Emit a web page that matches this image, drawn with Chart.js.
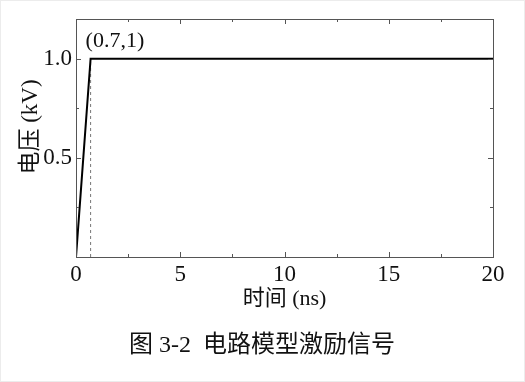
<!DOCTYPE html>
<html>
<head>
<meta charset="utf-8">
<script src="https://cdn.jsdelivr.net/npm/chart.js@4.4.1/dist/chart.umd.min.js"></script>
<style>
  html, body { margin: 0; padding: 0; background: #fff; }
  #wrap { position: relative; width: 523px; height: 380px; border: 1px solid #ececec; }
  canvas { display: block; }
</style>
</head>
<body>
<div id="wrap"><canvas id="pulseChart" width="523" height="380"></canvas></div>
<script>
// signal data (ns, kV)
const timeNs = [0, 0.7, 20];
const voltageKv = [0, 1, 1];
const markerX = [0.7, 0.7];
const markerY = [0, 1];
const noteLabel = "(0.7,1)";

const xTicks = [0, 5, 10, 15, 20];
const xMinor = [2.5, 7.5, 12.5, 17.5];
const yTicks = [0, 0.5, 1.0];
const yMinor = [0.25, 0.75];

const xTitle = "时间 (ns)";
const yTitle = "电压 (kV)";
const caption = "图 3-2  电路模型激励信号";

const serif = "'Liberation Serif', 'Times New Roman', 'Noto Sans CJK SC', serif";
const boxColor = "#555";

const toPoints = (xs, ys) => xs.map((x, i) => ({ x: x, y: ys[i] }));

// box, inward ticks, y title, note, caption
const framePlugin = {
  id: "frame",
  afterDraw(chart) {
    const { ctx, chartArea: a, scales } = chart;
    const sx = scales.x, sy = scales.y;
    ctx.save();
    ctx.strokeStyle = boxColor;
    ctx.lineWidth = 1;
    ctx.strokeRect(a.left + 0.5, a.top + 0.5, a.right - a.left, a.bottom - a.top);

    const tick = (vals, len, horiz) => {
      vals.forEach(v => {
        ctx.beginPath();
        if (horiz) {
          const px = Math.round(sx.getPixelForValue(v)) + 0.5;
          ctx.moveTo(px, a.bottom); ctx.lineTo(px, a.bottom - len);
          ctx.moveTo(px, a.top); ctx.lineTo(px, a.top + len);
        } else {
          const py = Math.round(sy.getPixelForValue(v)) + 0.5;
          ctx.moveTo(a.left, py); ctx.lineTo(a.left + len, py);
          ctx.moveTo(a.right, py); ctx.lineTo(a.right - len, py);
        }
        ctx.stroke();
      });
    };
    tick(xTicks.slice(1, -1), 5, true);
    tick(xMinor, 3, true);
    tick(yTicks.slice(1), 5, false);
    tick(yMinor, 3, false);

    ctx.fillStyle = "#111";
    ctx.textBaseline = "middle";

    ctx.save();
    ctx.translate(30, 126);
    ctx.rotate(-Math.PI / 2);
    ctx.font = "23px " + serif;
    ctx.textAlign = "center";
    ctx.fillText(yTitle, 0, 0);
    ctx.restore();

    ctx.font = "22px " + serif;
    ctx.textAlign = "left";
    ctx.fillText(noteLabel, sx.getPixelForValue(markerX[1]) - 5, sy.getPixelForValue(markerY[1]) - 17);

    ctx.font = "24px " + serif;
    ctx.textAlign = "center";
    ctx.fillText(caption, 261, 345);
    ctx.restore();
  }
};

new Chart(document.getElementById("pulseChart"), {
  type: "scatter",
  data: {
    datasets: [
      {
        data: toPoints(timeNs, voltageKv),
        showLine: true,
        borderColor: "#000",
        borderWidth: 2,
        pointRadius: 0,
        tension: 0
      },
      {
        data: toPoints(markerX, markerY),
        showLine: true,
        borderColor: "#777",
        borderWidth: 1,
        borderDash: [3, 3],
        pointRadius: 0
      }
    ]
  },
  options: {
    responsive: false,
    animation: false,
    layout: { padding: { top: 18, right: 31, left: 0, bottom: 64 } },
    plugins: {
      legend: { display: false },
      tooltip: { enabled: false }
    },
    scales: {
      x: {
        type: "linear",
        min: 0,
        max: 20,
        afterBuildTicks: s => { s.ticks = xTicks.map(v => ({ value: v })); },
        afterFit: s => { s.height = 60; },
        grid: { display: false, drawTicks: false },
        border: { display: false },
        ticks: { padding: 4, color: "#111", font: { family: serif, size: 23 } },
        title: { display: true, text: xTitle, color: "#111", padding: { top: 5, bottom: 5 }, font: { family: serif, size: 22 } }
      },
      y: {
        type: "linear",
        min: 0,
        max: 1.2,
        afterBuildTicks: s => { s.ticks = yTicks.map(v => ({ value: v })); },
        afterFit: s => { s.width = 75; },
        grid: { display: false, drawTicks: false },
        border: { display: false },
        ticks: {
          padding: 4,
          color: "#111",
          font: { family: serif, size: 23 },
          callback: v => (v === 0 ? "" : v.toFixed(1))
        },
        title: { display: false }
      }
    }
  },
  plugins: [framePlugin]
});
</script>
</body>
</html>
